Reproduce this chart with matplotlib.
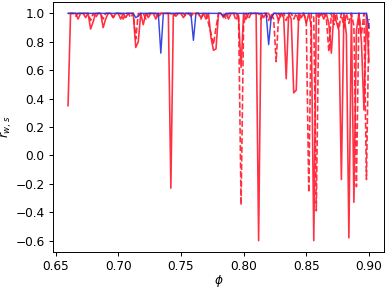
import numpy as np
import matplotlib
matplotlib.use("Agg")
import matplotlib.pyplot as plt

# phi grid (step 0.002 from 0.660 to 0.900)
phi = np.round(np.arange(0.660, 0.9001, 0.002), 3)

blue = [
    1, 1, 1, 1, 1, 1, 1, 1, 1, 1,
    1, 1, 1, 1, 1, 1, 1, 1, 1, 1,
    1, 1, 1, 1, 1, 1, 1, 0.97, 0.98, 1,
    1, 1, 1, 1, 1, 1, 1, 0.72, 1, 1,
    1, 1, 1, 1, 1, 1, 1, 1, 1, 1,
    0.81, 1, 1, 1, 1, 1, 1, 1, 1, 1,
    1, 1, 0.98, 1, 1, 1, 1, 1, 1, 1,
    1, 1, 1, 1, 1, 1, 1, 1, 1, 1,
    0.78, 0.97, 1, 1, 1, 1, 1, 1, 1, 1,
    1, 1, 1, 1, 1, 1, 1, 1, 1, 1,
    1, 1, 1, 1, 1, 1, 1, 1, 1, 1,
    1, 1, 1, 1, 1, 1, 1, 1, 1, 1,
    0.90,
]

red_solid = [
    0.35, 1, 1, 1, 0.96, 1, 1, 0.97, 1, 0.89,
    0.94, 1, 1, 1, 0.90, 0.96, 1, 1, 0.97, 1,
    1, 0.96, 1, 0.97, 1, 1, 1, 0.76, 0.80, 1,
    0.92, 1, 0.97, 1, 1, 0.96, 1, 1, 1, 1,
    1, -0.23, 1, 0.98, 1, 1, 0.97, 1, 1, 0.98,
    1, 1, 1, 0.97, 1, 0.96, 1, 0.83, 0.74, 0.75,
    1, 1, 0.97, 1, 0.96, 1, 1, 1, 0.97, 0.62,
    1, 0.96, 1, 1, 1, 1, -0.60, 1, 0.97, 1,
    1, 0.96, 1, 1, 0.95, 1, 0.97, 0.54, 1, 0.96,
    0.44, 0.46, 1, 0.97, 1, 0.93, 1, 0.91, -0.60, 1,
    0.97, 1, 0.96, 1, 0.93, 0.72, 1, 0.94, 0.88, -0.17,
    1, 0.85, -0.58, 1, -0.33, 0.88, 1, 0.80, 0.32, 1,
    0.66,
]

red_dashed = [
    1, 1, 1, 0.98, 1, 1, 1, 1, 1, 0.95,
    1, 0.97, 1, 1, 0.96, 1, 1, 1, 0.97, 1,
    1, 1, 0.96, 1, 1, 0.97, 1, 0.82, 1, 1,
    1, 0.96, 1, 1, 1, 1, 0.97, 1, 1, 1,
    1, 1, 0.98, 1, 1, 1, 1, 0.98, 1, 1,
    1, 1, 1, 0.96, 1, 1, 0.93, 0.86, 0.78, 0.90,
    1, 1, 1, 0.96, 1, 1, 1, 0.95, 1, -0.35,
    0.92, 1, 0.96, 1, 1, 1, 1, 0.96, 1, 1,
    0.95, 1, 0.96, 0.66, 1, 0.97, 1, 0.95, 1, 1,
    0.96, 1, 0.94, 1, 1, 0.95, -0.26, 1, 0.97, -0.39,
    1, 0.98, 1, 0.97, 0.73, 1, 0.92, 1, 0.89, 1,
    0.90, 1, 0.93, 1, 0.91, -0.22, 1, 0.85, 1, -0.17,
    0.96,
]

dpi = 87
fig = plt.figure(figsize=(391 / dpi, 290 / dpi), dpi=dpi)
ax = fig.add_axes([53 / 391, 1 - 252 / 290, (384 - 53) / 391, (252 - 2) / 290])

ax.plot(phi, red_solid, color="#ff1a2e", lw=1.35, alpha=0.9, zorder=2)
ax.plot(phi, red_dashed, color="#ff1a2e", lw=1.35, ls="--", alpha=0.9, zorder=3)
ax.plot(phi, blue, color="#2233dd", lw=1.2, alpha=0.9, zorder=4)

ax.set_xlabel(r"$\phi$", fontsize=10, labelpad=0)
ax.set_ylabel(r"$r_{w,s}$", fontsize=10, labelpad=1)
ax.tick_params(labelsize=10)
ax.set_xticks([0.65, 0.70, 0.75, 0.80, 0.85, 0.90])
ax.set_yticks([-0.6, -0.4, -0.2, 0.0, 0.2, 0.4, 0.6, 0.8, 1.0])

fig.savefig("out.png", dpi=dpi)
